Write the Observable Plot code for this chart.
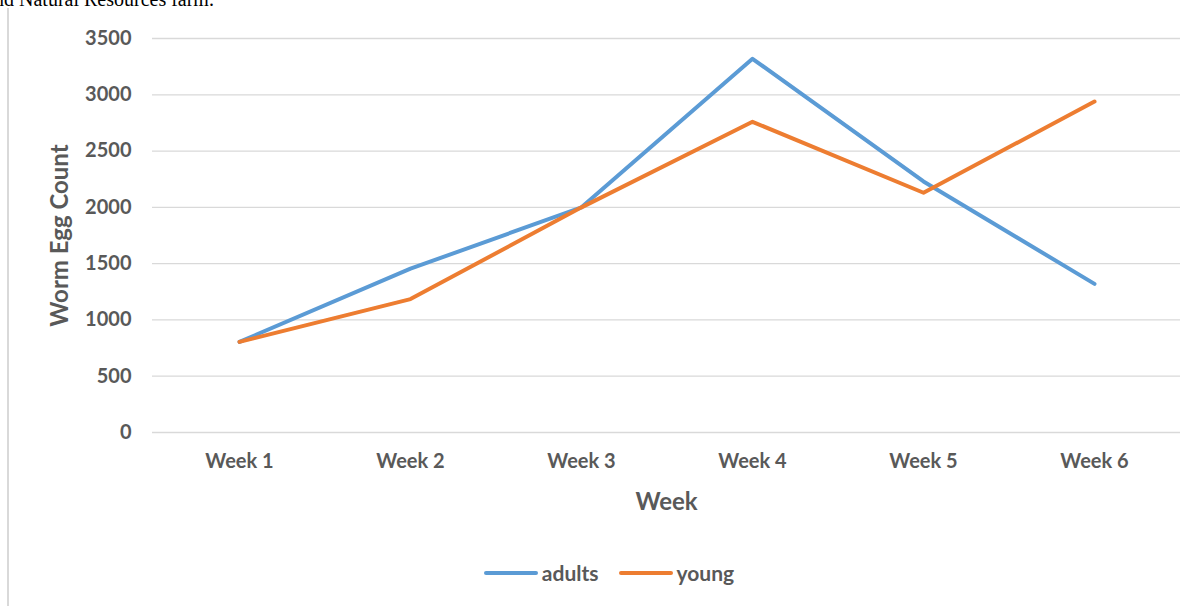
<!DOCTYPE html>
<html>
<head>
<meta charset="utf-8">
<script src="https://cdn.jsdelivr.net/npm/d3@7"></script>
<script src="https://cdn.jsdelivr.net/npm/@observablehq/plot@0.6"></script>
<style>
  html, body { margin: 0; padding: 0; background: #fff; }
  #wrap { position: relative; width: 1198px; height: 606px; overflow: hidden; background: #fff; }
  #toptext { position: absolute; left: -6px; top: -12px; font-family: "Liberation Serif", "Times New Roman", serif; font-size: 20px; color: #000; white-space: nowrap; }
  #vline { position: absolute; left: 7px; top: 8px; width: 2px; height: 598px; background: #d9d9d9; }
  #chart { position: absolute; left: 0; top: 0; }
  #legend { position: absolute; top: 560px; left: 10px; width: 1198px; display: flex; justify-content: center; gap: 20px; font-family: Lato, "Open Sans", sans-serif; font-weight: 700; font-size: 21px; color: #595959; }
  .item { display: flex; align-items: center; gap: 4px; }
  .sw { width: 54px; height: 4px; border-radius: 2px; }
  svg text { font-family: Lato, "Open Sans", sans-serif; }
</style>
</head>
<body>
<div id="wrap">
  <div id="toptext">nd Natural Resources farm.</div>
  <div id="vline"></div>
  <div id="chart"></div>
  <div id="legend"></div>
</div>
<script>
const weeks = ["Week 1", "Week 2", "Week 3", "Week 4", "Week 5", "Week 6"];
const adults = [805, 1455, 2000, 3320, 2230, 1320];
const young = [805, 1185, 2000, 2760, 2130, 2940];
const seriesNames = ["adults", "young"];
const seriesColors = ["#5B9BD5", "#ED7D31"];
const yTicks = [0, 500, 1000, 1500, 2000, 2500, 3000, 3500];

const data = [];
weeks.forEach((w, i) => {
  data.push({week: w, value: adults[i], series: "adults"});
  data.push({week: w, value: young[i], series: "young"});
});

const chart = Plot.plot({
  width: 1198,
  height: 540,
  marginTop: 38,
  marginBottom: 108,
  marginLeft: 152,
  marginRight: 18,
  style: {fontFamily: "Lato, 'Open Sans', sans-serif", background: "transparent"},
  x: {type: "point", domain: weeks, padding: 0.5, label: null},
  y: {domain: [0, 3500], label: null},
  color: {domain: seriesNames, range: seriesColors},
  marks: [
    Plot.gridY(yTicks, {stroke: "#d9d9d9", strokeOpacity: 1, strokeWidth: 1.3}),
    Plot.axisY(yTicks, {tickSize: 0, tickPadding: 21, tickFormat: d => String(d), fontSize: 20, fontWeight: 700, fill: "#595959", label: null}),
    Plot.axisX({tickSize: 0, tickPadding: 21, fontSize: 20, fontWeight: 700, fill: "#595959", label: null}),
    Plot.line(data, {x: "week", y: "value", z: "series", stroke: "series", strokeWidth: 4, strokeLinecap: "round", strokeLinejoin: "round"}),
    Plot.text(["Week"], {frameAnchor: "bottom", lineAnchor: "middle", dy: 70, fontSize: 24, fontWeight: 700, fill: "#595959"}),
    Plot.text(["Worm Egg Count"], {frameAnchor: "left", textAnchor: "middle", lineAnchor: "middle", dx: -92, rotate: -90, fontSize: 24, fontWeight: 700, fill: "#595959"})
  ]
});
document.getElementById("chart").appendChild(chart);

const legend = document.getElementById("legend");
seriesNames.forEach((n, i) => {
  const it = document.createElement("div");
  it.className = "item";
  it.innerHTML = `<span class="sw" style="background:${seriesColors[i]}"></span><span>${n}</span>`;
  legend.appendChild(it);
});
</script>
</body>
</html>
